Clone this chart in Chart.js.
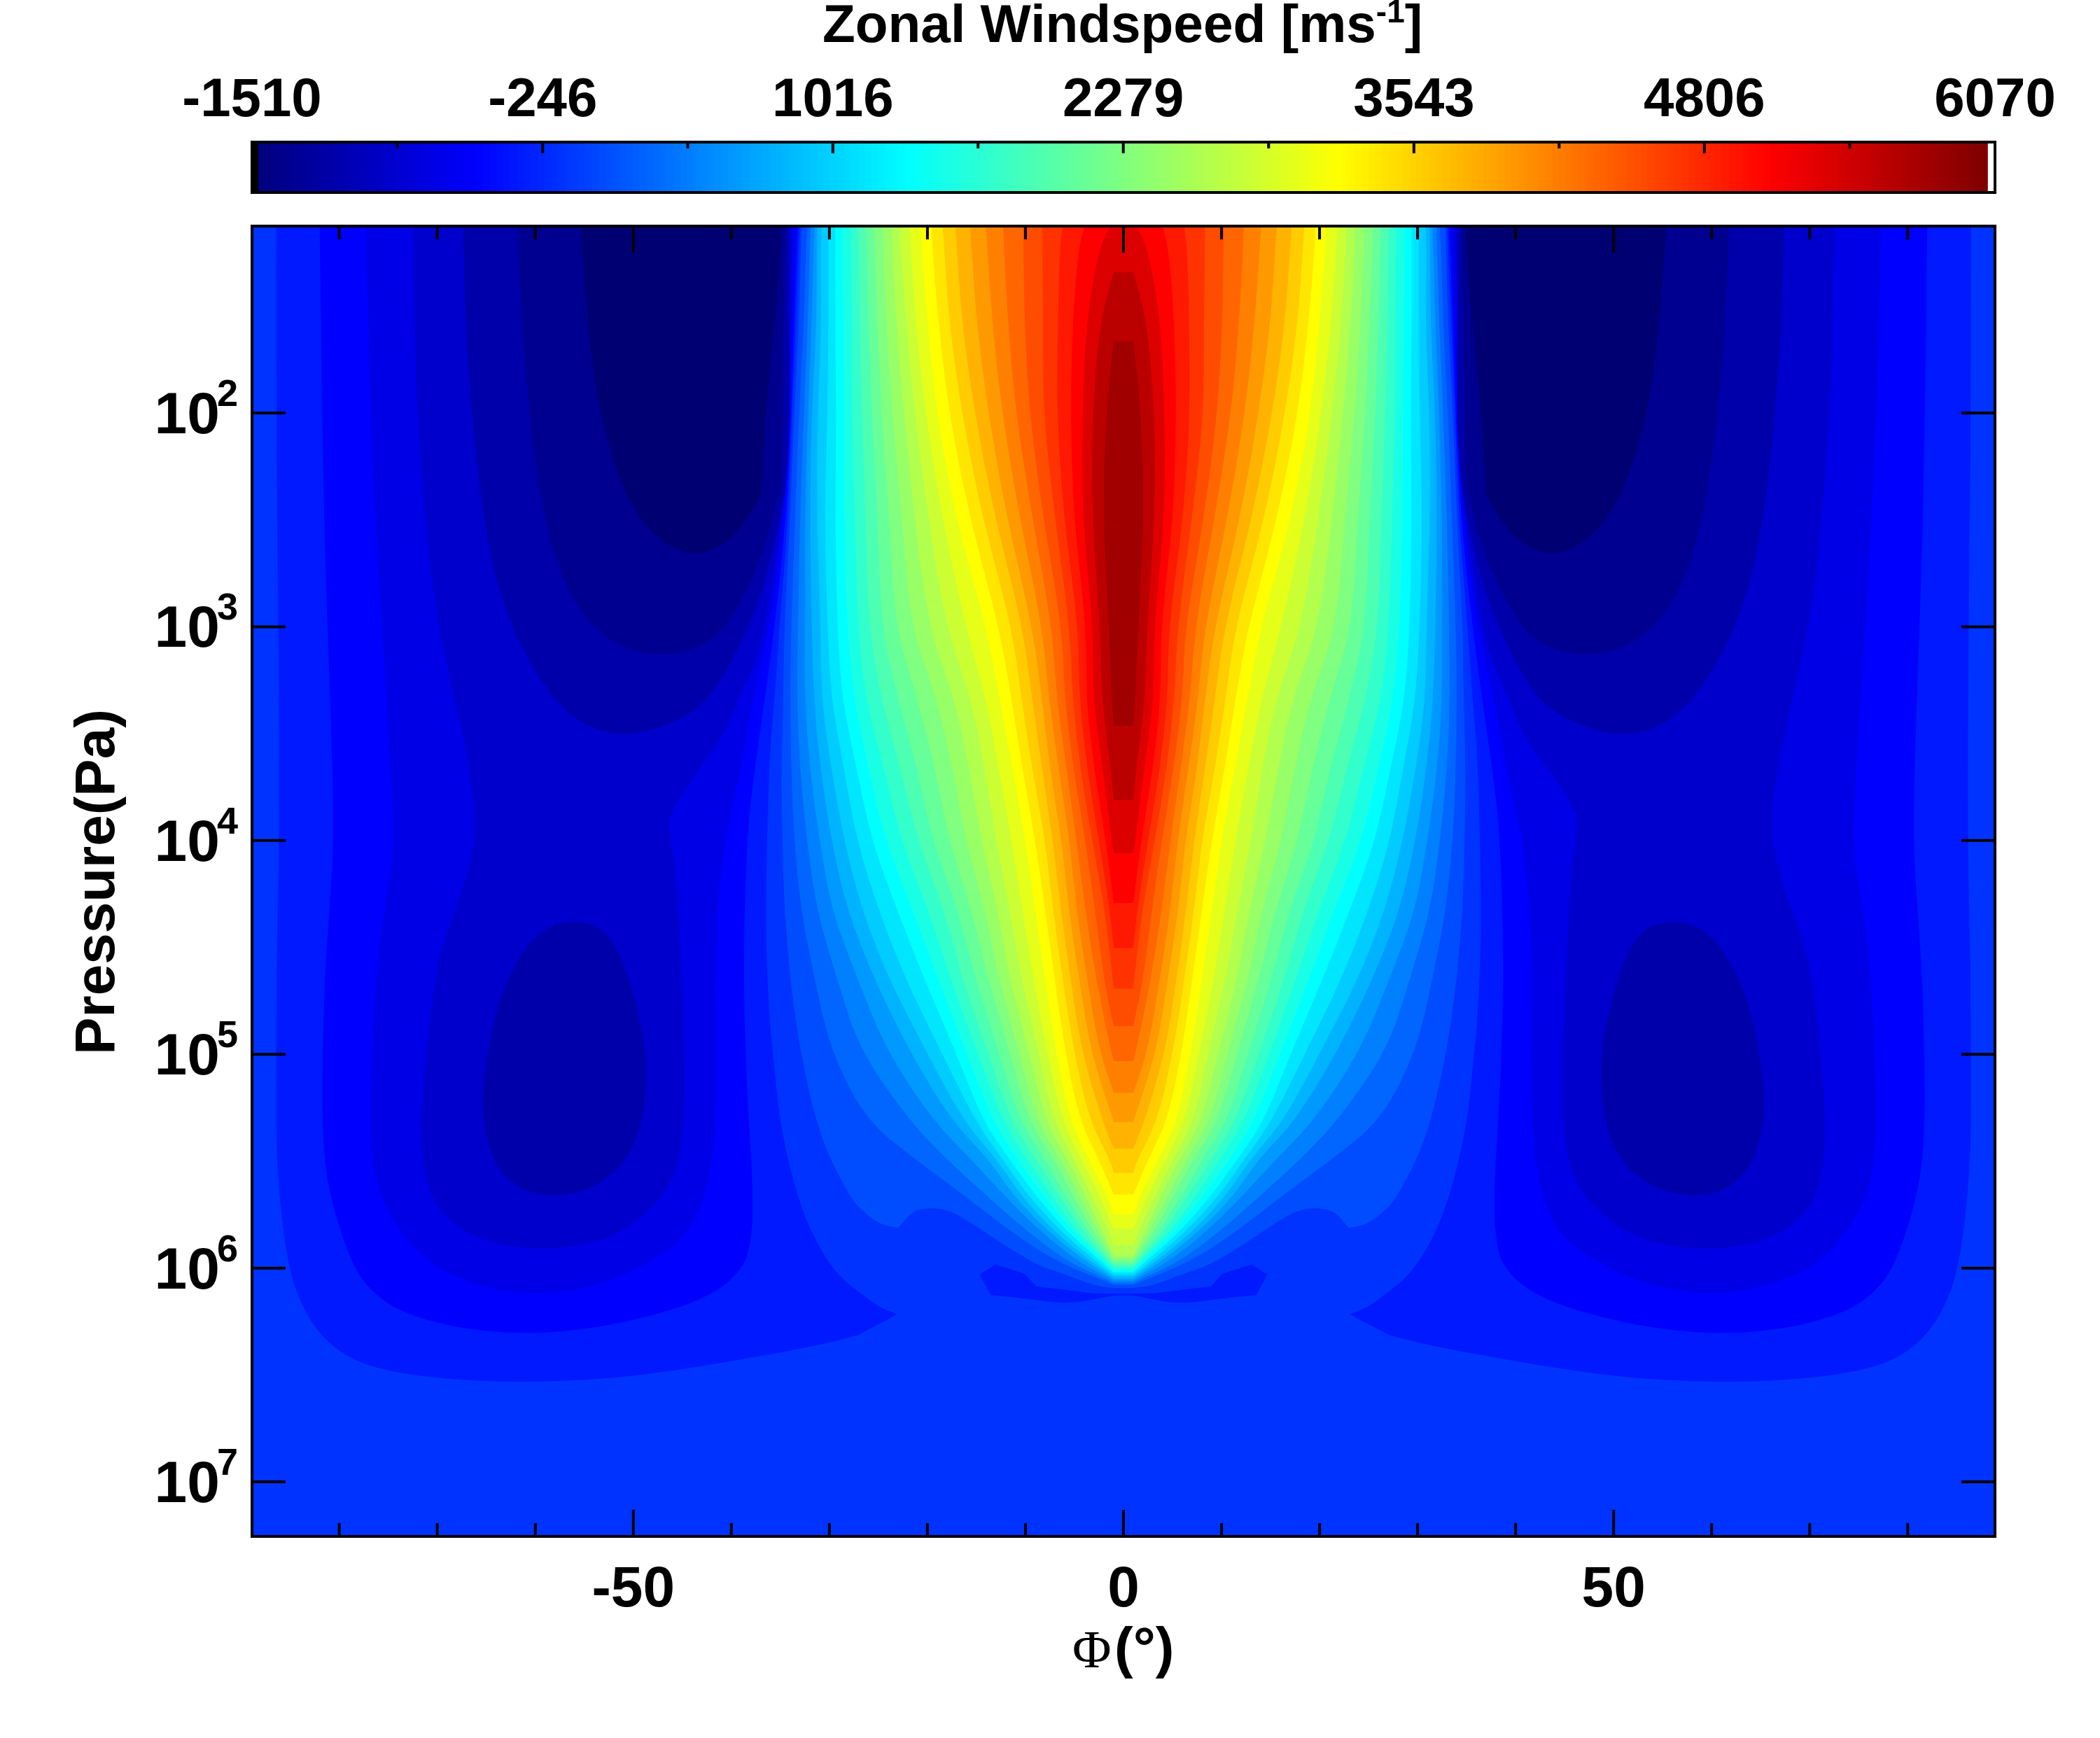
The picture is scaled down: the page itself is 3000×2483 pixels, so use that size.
<!DOCTYPE html>
<html>
<head>
<meta charset="utf-8">
<title>Zonal Windspeed</title>
<script src="https://cdn.jsdelivr.net/npm/chart.js@4/dist/chart.umd.js"></script>
<style>
  html, body { margin: 0; padding: 0; background: #fff; }
  canvas { position: absolute; left: 0; top: 0; display: block; }
</style>
</head>
<body>
<canvas id="main-chart" width="3000" height="2483"></canvas>
<canvas id="colorbar" width="3000" height="300"></canvas>
<script>
// ── Axes and labels ──────────────────────────────────────────────────────
const LAT_RANGE = [-88.9, 88.9]
const LAT_MINOR = [-80, -70, -60, -40, -30, -20, -10, 10, 20, 30, 40, 60, 70, 80]
const LAT_MAJOR = [-50, 0, 50]
const LOGP_RANGE = [1.126, 7.255]
const PRESSURE_EXPONENTS = [2, 3, 4, 5, 6, 7]
const COLORBAR_LABELS = [-1510, -246, 1016, 2279, 3543, 4806, 6070]
const TITLE = "Zonal Windspeed [ms"

// ── Contour level colours, index = band number, lowest wind first ────────
const LEVEL_COLORS = [
  "#000073", "#000090", "#0000aa", "#0000cc", "#0000e6", "#0000ff", "#0019ff", "#0033ff",
  "#004dff", "#0066ff", "#0080ff", "#0099ff", "#00b3ff", "#00ccff", "#00e6ff", "#00ffff",
  "#19ffe6", "#33ffcc", "#4dffb3", "#66ff99", "#80ff80", "#99ff66", "#b3ff4d", "#ccff33",
  "#e6ff19", "#ffff00", "#ffe600", "#ffcc00", "#ffb300", "#ff9900", "#ff8000", "#ff6600",
  "#ff4d00", "#ff3300", "#ff1900", "#ff0000", "#dd0000", "#bb0000", "#a00000"
]

// ── Negative wind regions: [|latitude|, log10 pressure] ─
// a repeated point marks a sharp corner
const REGION_6 = [[86.45,1.1],[86.4,2.244],[86.2,2.996],[86.1,3.999],[86.4,4.561],[86.45,5.125],[86.4,5.538],[85.3,5.99],[83.5,6.215],[80.9,6.365],[77.3,6.459],[70.7,6.516],[60.5,6.538],[48.8,6.506],[31.8,6.369],[27.1,6.314],[27.1,6.314],[23.1,6.216],[23.1,6.216],[25.0,6.181],[26.9,6.115],[28.9,6.044],[30.9,5.919],[33.0,5.712],[35.0,5.351],[35.8,4.98],[36.1,4.847],[36.5,4.471],[36.4,4.032],[36.1,3.594],[35.6,3.343],[35.1,3.0],[34.2,2.491],[33.8,2.0],[33.4,1.574],[33.0,1.1]]
const REGION_5 = [[82.0,1.1],[81.8,1.868],[81.5,2.62],[80.9,3.372],[80.5,3.997],[81.1,4.373],[81.6,4.749],[81.8,5.35],[81.1,5.651],[78.7,5.99],[76.5,6.121],[73.3,6.215],[67.1,6.29],[59.8,6.309],[52.5,6.271],[45.2,6.187],[41.2,6.102],[39.0,6.008],[38.1,5.914],[37.7,5.689],[38.5,5.125],[38.8,4.561],[38.4,3.969],[37.6,3.656],[36.6,3.343],[35.6,3.0],[34.4,2.491],[33.9,2.0],[33.6,1.574],[33.2,1.1]]
const REGION_4 = [[77.3,1.1],[76.9,1.868],[76.2,2.62],[75.1,3.372],[74.35,3.999],[74.9,4.185],[76.2,4.561],[76.9,5.313],[76.35,5.595],[74.35,5.8],[70.7,5.99],[65.24,6.093],[59.8,6.121],[54.3,6.093],[48.84,5.99],[44.1,5.839],[41.9,5.538],[41.55,5.125],[41.74,4.467],[40.75,3.997],[39.25,3.719],[37.85,3.343],[36.1,3.0],[34.6,2.491],[34.1,2.0],[33.8,1.574],[33.5,1.1]]
const REGION_3 = [[72.5,1.1],[72.2,1.868],[71.4,2.432],[70.0,2.996],[67.06,3.56],[66.15,3.842],[66.15,3.997],[67.06,4.185],[68.9,4.41],[70.3,4.636],[71.8,5.313],[71.1,5.632],[68.9,5.783],[65.24,5.877],[59.8,5.918],[54.3,5.886],[50.66,5.82],[47.0,5.67],[45.2,5.5],[44.65,5.125],[45.56,4.185],[46.2,3.997],[46.4,3.898],[45.2,3.785],[40.64,3.503],[39.4,3.343],[37.56,3.17],[36.4,2.95],[34.8,2.491],[34.3,2.0],[34.1,1.574],[33.8,1.1]]
const REGION_2_TOP = [[67.4,1.1],[67.06,1.68],[65.6,2.432],[63.4,2.902],[59.8,3.24],[56.1,3.437],[51.75,3.513],[47.0,3.475],[43.0,3.372],[40.95,3.243],[39.0,3.075],[36.85,2.841],[34.7,2.439],[34.2,2.22],[34.0,1.927],[34.2,1.1]]
const REGION_2_LOW = [[56.1,4.373],[52.85,4.411],[50.66,4.598],[48.84,4.937],[48.66,5.125],[49.2,5.35],[51.0,5.52],[54.3,5.632],[58.3,5.67],[61.6,5.632],[64.15,5.52],[65.4,5.313],[65.24,5.087],[63.8,4.749],[61.2,4.505],[58.7,4.401]]
const REGION_1 = [[61.8,1.1],[61.4,1.586],[60.1,2.244],[57.95,2.714],[55.0,2.968],[51.0,3.108],[46.65,3.137],[43.2,3.097],[41.0,3.024],[39.0,2.877],[36.85,2.68],[34.9,2.336],[34.9,2.336],[34.7,1.927],[34.7,1.574],[34.4,1.1]]
const REGION_0 = [[55.4,1.1],[54.86,1.49],[53.94,1.868],[52.49,2.169],[50.3,2.432],[47.75,2.582],[45.2,2.648],[43.37,2.663],[40.83,2.62],[38.64,2.516],[37.0,2.385],[37.0,2.385],[36.27,1.868],[35.36,1.49],[34.81,1.1]]
// patch just under the jet tip, from the equator outwards and back
const ISLAND_6 = [[0,6.128],[1.1,6.128],[4.78,6.162],[7.02,6.162],[9.73,6.143],[13.55,6.126],[13.55,6.126],[14.67,6.03],[14.67,6.03],[13.08,5.983],[13.08,5.983],[10.05,6.027],[10.05,6.027],[8.93,6.085],[8.93,6.085],[4.94,6.107],[3.03,6.12],[0,6.12]]
// outer edge of band 8, including the shoulder above the deep flow
const BAND_8 = [[32.8,1.1],[32.8,1.1],[32.9,1.225],[33.1,1.574],[33.6,2.0],[34.0,2.491],[34.6,3.0],[34.7,3.343],[34.9,3.67],[34.8,4.0],[34.6,4.325],[34.0,4.652],[33.0,4.98],[31.4,5.307],[29.9,5.493],[27.9,5.665],[26.9,5.722],[24.9,5.796],[23.0,5.812],[23.0,5.812],[21.8,5.749],[21.0,5.725],[18.8,5.717],[16.8,5.749],[12.9,5.87],[8.9,5.984],[6.1,6.027],[2.9,6.083],[1.0,6.093]]

// ── Equatorial jet: half width in degrees of each band, row by row ───────
// every row starts at band 9 and stops at the last band present at that depth
const JET_LOGP = [1.1, 1.225, 1.574, 2.0, 2.491, 3.0, 3.343, 3.67, 4.0, 4.325, 4.652, 4.98, 5.307, 5.493, 5.665, 5.836, 5.973]
const JET_ROW_0 = [32.2,31.9,31.5,31.2,30.8,30.1,29.4,28.7,27.8,27.1,26.3,25.5,24.6,23.6,22.7,21.8,20.7,19.6,18.5,17.2,15.7,14.1,12.3,10.3,8.3,6.1,3.8,1.0]
const JET_ROW_1 = [32.4,32.0,31.6,31.3,30.9,30.1,29.4,28.7,27.8,27.0,26.2,25.4,24.5,23.6,22.7,21.7,20.6,19.5,18.3,17.0,15.5,13.9,12.2,10.2,8.3,6.5,4.6,2.5]
const JET_ROW_2 = [32.6,32.2,31.8,31.3,30.8,30.1,29.4,28.6,27.7,26.9,26.0,25.1,24.2,23.2,22.2,21.2,20.0,18.9,17.8,16.5,15.0,13.4,11.8,10.1,8.2,6.7,5.2,3.8,2.4]
const JET_ROW_3 = [33.1,32.6,32.2,31.8,31.2,30.2,29.3,28.5,27.7,26.7,25.7,24.7,23.6,22.4,21.3,20.2,19.1,17.8,16.5,15.2,13.8,12.4,11.0,9.6,8.2,6.8,5.4,4.2,3.2,1.8]
const JET_ROW_4 = [33.5,33.0,32.5,32.0,31.3,30.5,29.4,28.5,27.4,26.3,25.1,23.9,22.6,21.3,19.9,18.5,17.1,15.7,14.4,13.1,11.9,10.6,9.3,8.2,7.0,6.1,5.1,4.2,3.2,2.1]
const JET_ROW_5 = [33.9,33.2,32.5,31.8,30.9,30.2,29.2,28.2,27.1,26.0,24.7,23.3,21.7,19.9,18.1,16.1,14.0,12.7,11.4,10.3,9.3,8.3,7.3,6.3,5.5,4.6,3.8,3.1,2.4,1.5]
const JET_ROW_6 = [34.0,33.3,32.5,31.6,30.8,29.8,28.7,27.5,26.3,24.7,23.0,21.0,19.0,17.2,15.5,14.0,12.6,11.4,10.4,9.3,8.3,7.6,6.8,6.0,5.2,4.5,3.8,3.1,2.2,1.2]
const JET_ROW_7 = [33.9,33.0,32.0,30.9,29.8,28.5,27.2,26.0,24.4,22.7,21.0,19.2,17.4,15.7,14.1,12.7,11.3,10.3,9.3,8.3,7.5,6.6,5.8,5.1,4.4,3.7,3.0,2.1,1.3]
const JET_ROW_8 = [33.6,32.3,31.0,29.8,28.5,27.2,25.7,24.3,22.7,21.0,19.5,17.8,16.1,14.5,13.0,11.4,10.0,9.0,8.0,7.2,6.3,5.5,4.8,3.9,3.2,2.5,1.8,1.2]
const JET_ROW_9 = [32.9,31.3,29.8,28.2,26.7,25.0,23.1,21.5,19.9,18.3,16.9,15.5,14.1,12.8,11.6,10.3,9.0,8.0,7.2,6.4,5.6,4.8,3.9,2.9,1.9,1.4]
const JET_ROW_10 = [31.5,29.2,27.1,25.4,23.9,22.2,20.3,18.9,17.6,16.4,15.1,13.8,12.7,11.6,10.4,9.2,8.0,7.0,6.2,5.4,4.5,3.7,2.8,2.0,1.1]
const JET_ROW_11 = [29.9,26.9,24.2,21.9,20.2,18.7,17.2,16.1,15.0,13.9,12.8,11.7,10.7,9.7,8.7,7.8,6.9,6.0,5.1,4.3,3.4,2.5,1.3]
const JET_ROW_12 = [26.3,21.9,19.5,17.6,16.4,15.2,14.4,13.4,12.4,11.5,10.6,9.7,8.9,8.0,7.2,6.3,5.5,4.5,3.5,2.2]
const JET_ROW_13 = [21.2,18.0,15.5,13.7,12.9,12.3,11.6,10.8,9.8,8.9,8.0,7.1,6.4,5.7,5.0,4.3,3.5,2.5,1.4]
const JET_ROW_14 = [16.1,13.9,12.1,11.2,10.4,9.7,8.9,8.1,7.3,6.5,5.9,5.1,4.5,3.8,3.2,2.4,1.6]
const JET_ROW_15 = [11.3,9.6,8.3,7.5,6.9,6.2,5.6,5.1,4.6,4.0,3.5,3.0,2.5,2.1,1.4]
const JET_ROW_16 = [6.7,5.6,4.5,3.7,3.2,2.7,2.2,1.9,1.6,1.4,1.2]
const JET_ROWS = [JET_ROW_0, JET_ROW_1, JET_ROW_2, JET_ROW_3, JET_ROW_4, JET_ROW_5, JET_ROW_6, JET_ROW_7, JET_ROW_8,
  JET_ROW_9, JET_ROW_10, JET_ROW_11, JET_ROW_12, JET_ROW_13, JET_ROW_14, JET_ROW_15, JET_ROW_16]
// log10 pressure where each band (9 to 38) closes below the flat tip at ±1°
const JET_TIP_BOTTOM = [6.078,6.069,6.059,6.05,6.039,6.03,6.019,6.012,6.0,5.99,5.978,5.968,5.954,5.941,5.892,5.815,5.749,5.656,5.555,5.441,5.317,5.18,5.032,4.868,4.692,4.502,4.292,4.06,3.811,3.464]
// bands 37 and 38 also close at the top
const JET_TIP_TOP = { 37: 1.342, 38: 1.666 }
const TIP_HALF_WIDTH = 1.0

// ── Fonts and frame ──────────────────────────────────────────────────────
const BOLD = "'Liberation Sans', Arial, sans-serif"
const LINE = 4

function toPoint([lat, logP]) {
  return { x: lat, y: Math.pow(10, logP) }
}

function region(pairs, color, label) {
  return { label, data: pairs.map(toPoint), backgroundColor: color, showLine: false, pointRadius: 0 }
}

// keeps the corners square where an outline leaves the top of the plot
function squareEnds(pairs) {
  return [pairs[0]].concat(pairs, [pairs[pairs.length - 1]])
}

// half outline running from the equator out and back, closed over the other hemisphere
function fullOutline(half) {
  const other = half.slice().reverse().map(([lat, logP]) => [-lat, logP])
  return half.concat(other)
}

function jetOutline(band) {
  const idx = band - 9
  const half = []
  const topTip = JET_TIP_TOP[band]
  if (topTip !== undefined) {
    half.push([0, topTip], [0, topTip], [TIP_HALF_WIDTH, topTip], [TIP_HALF_WIDTH, topTip])
  }
  JET_ROWS.forEach((row, r) => {
    if (row[idx] === undefined) return
    if (!half.length) half.push([0, JET_LOGP[r]], [0, JET_LOGP[r]], [row[idx], JET_LOGP[r]])
    half.push([row[idx], JET_LOGP[r]])
  })
  const tip = JET_TIP_BOTTOM[idx]
  half.push([TIP_HALF_WIDTH, tip], [TIP_HALF_WIDTH, tip], [0, tip], [0, tip])
  return fullOutline(half)
}

function buildDatasets() {
  const sets = []
  const corners = [[LAT_RANGE[0], 1], [LAT_RANGE[0], 1], [LAT_RANGE[1], 1], [LAT_RANGE[1], 1], [LAT_RANGE[1], 8], [LAT_RANGE[1], 8], [LAT_RANGE[0], 8], [LAT_RANGE[0], 8]]
  sets.push(region(corners, LEVEL_COLORS[7], "band 7"))

  const negative = [
    [squareEnds(REGION_6), 6], [squareEnds(REGION_5), 5], [squareEnds(REGION_4), 4], [squareEnds(REGION_3), 3],
    [squareEnds(REGION_2_TOP), 2], [REGION_2_LOW, 2], [squareEnds(REGION_1), 1], [squareEnds(REGION_0), 0]
  ]
  negative.forEach(([pairs, band]) => {
    sets.push(region(pairs, LEVEL_COLORS[band], "band " + band))
    sets.push(region(pairs.map(([lat, logP]) => [-lat, logP]), LEVEL_COLORS[band], "band " + band))
  })
  sets.push(region(fullOutline(ISLAND_6), LEVEL_COLORS[6], "band 6"))

  const band8 = [[0, BAND_8[0][1]], [0, BAND_8[0][1]]].concat(BAND_8, [[0, BAND_8[BAND_8.length - 1][1]]])
  sets.push(region(fullOutline(band8), LEVEL_COLORS[8], "band 8"))
  for (let band = 9; band <= 38; band++) {
    sets.push(region(jetOutline(band), LEVEL_COLORS[band], "band " + band))
  }
  return sets
}

// ── Plugin: fills each dataset outline, using the points placed by the scales ─
// the outline is rounded through the midpoints, so the read-off points leave no kinks
const polygonFill = {
  id: "polygonFill",
  beforeDatasetsDraw(chart) {
    const { ctx, chartArea: a } = chart
    ctx.save()
    ctx.beginPath()
    ctx.rect(a.left, a.top, a.right - a.left, a.bottom - a.top)
    ctx.clip()
    chart.data.datasets.forEach((ds, i) => {
      const pts = chart.getDatasetMeta(i).data
      const n = pts.length
      const mid = (p, q) => [(p.x + q.x) / 2, (p.y + q.y) / 2]
      ctx.beginPath()
      ctx.moveTo(...mid(pts[n - 1], pts[0]))
      pts.forEach((p, k) => {
        const [mx, my] = mid(p, pts[(k + 1) % n])
        ctx.quadraticCurveTo(p.x, p.y, mx, my)
      })
      ctx.closePath()
      ctx.fillStyle = ds.backgroundColor
      ctx.fill()
    })
    ctx.restore()
  }
}

function vLine(ctx, x, y0, y1) {
  ctx.beginPath()
  ctx.moveTo(x, y0)
  ctx.lineTo(x, y1)
  ctx.stroke()
}

function hLine(ctx, y, x0, x1) {
  ctx.beginPath()
  ctx.moveTo(x0, y)
  ctx.lineTo(x1, y)
  ctx.stroke()
}

// ── Plugin: frame, inward ticks, pressure labels and axis titles ─────────
const mainDecor = {
  id: "mainDecor",
  afterDatasetsDraw(chart) {
    const { ctx, chartArea: a, scales } = chart
    ctx.save()
    ctx.strokeStyle = "#000"
    ctx.lineWidth = LINE
    ctx.strokeRect(a.left, a.top, a.right - a.left, a.bottom - a.top)

    LAT_MINOR.forEach(v => {
      const x = scales.x.getPixelForValue(v)
      vLine(ctx, x, a.top, a.top + 19)
      vLine(ctx, x, a.bottom, a.bottom - 19)
    })
    LAT_MAJOR.forEach(v => {
      const x = scales.x.getPixelForValue(v)
      vLine(ctx, x, a.top, a.top + 38)
      vLine(ctx, x, a.bottom, a.bottom - 38)
    })

    ctx.fillStyle = "#000"
    ctx.textBaseline = "alphabetic"
    ctx.textAlign = "right"
    PRESSURE_EXPONENTS.forEach(exp => {
      const y = scales.y.getPixelForValue(Math.pow(10, exp))
      hLine(ctx, y, a.left, a.left + 48)
      hLine(ctx, y, a.right, a.right - 48)
      ctx.font = "bold 84px " + BOLD
      ctx.fillText("10", 314, y + 29)
      ctx.font = "bold 54px " + BOLD
      ctx.fillText(String(exp), 340, y - 10)
    })

    // x title: Φ in a serif face, the rest bold
    ctx.textAlign = "left"
    ctx.font = "76px 'Liberation Serif', serif"
    ctx.fillText("Φ", 1532, 2382)
    ctx.font = "bold 80px " + BOLD
    ctx.fillText("(°)", 1592, 2381)

    ctx.translate(163, 1260)
    ctx.rotate(-Math.PI / 2)
    ctx.textAlign = "center"
    ctx.font = "bold 80px " + BOLD
    ctx.fillText("Pressure(Pa)", 0, 0)
    ctx.restore()
  }
}

new Chart(document.getElementById("main-chart"), {
  type: "scatter",
  data: { datasets: buildDatasets() },
  plugins: [polygonFill, mainDecor],
  options: {
    responsive: false,
    animation: false,
    events: [],
    layout: { padding: { top: 323, right: 150, left: 0, bottom: 0 } },
    plugins: { legend: { display: false }, tooltip: { enabled: false } },
    scales: {
      x: {
        type: "linear",
        min: LAT_RANGE[0],
        max: LAT_RANGE[1],
        grid: { display: false },
        border: { display: false },
        afterBuildTicks: s => { s.ticks = LAT_MAJOR.map(value => ({ value })) },
        afterFit: s => { s.height = 288 },
        ticks: {
          color: "#000",
          autoSkip: false,
          maxRotation: 0,
          padding: 20,
          font: { family: BOLD, size: 82, weight: "bold" }
        }
      },
      y: {
        type: "logarithmic",
        reverse: true,
        min: Math.pow(10, LOGP_RANGE[0]),
        max: Math.pow(10, LOGP_RANGE[1]),
        grid: { display: false },
        border: { display: false },
        afterFit: s => { s.width = 360 },
        ticks: { display: false }
      }
    }
  }
})

// ── Colour bar ───────────────────────────────────────────────────────────
const CELL_COUNT = 256
const cellStep = (COLORBAR_LABELS[6] - COLORBAR_LABELS[0]) / CELL_COUNT

function jetColor(t) {
  const ramp = c => Math.round(255 * Math.max(0, Math.min(1, 1.5 - Math.abs(4 * t - c))))
  return `rgb(${ramp(3)},${ramp(2)},${ramp(1)})`
}

const cellColors = Array.from({ length: CELL_COUNT }, (_, k) => {
  if (k === 0) return "#000"
  if (k === CELL_COUNT - 1) return "#fff"
  return jetColor((k - 1) / (CELL_COUNT - 3))
})
const cellData = cellColors.map((_, k) => ({ x: COLORBAR_LABELS[0] + (k + 0.5) * cellStep, y: 1 }))

const colorbarDecor = {
  id: "colorbarDecor",
  afterDatasetsDraw(chart) {
    const { ctx, chartArea: a, scales } = chart
    ctx.save()
    ctx.strokeStyle = "#000"
    ctx.lineWidth = LINE
    ctx.strokeRect(a.left, a.top, a.right - a.left, a.bottom - a.top)
    COLORBAR_LABELS.forEach((v, i) => {
      const x = scales.x.getPixelForValue(v)
      vLine(ctx, x, a.top, a.top + 16)
      if (i < COLORBAR_LABELS.length - 1) {
        const mid = scales.x.getPixelForValue((v + COLORBAR_LABELS[i + 1]) / 2)
        vLine(ctx, mid, a.top, a.top + 9)
      }
    })

    // title with the superscript unit
    ctx.fillStyle = "#000"
    ctx.textBaseline = "alphabetic"
    ctx.textAlign = "left"
    ctx.font = "bold 76.6px " + BOLD
    ctx.fillText(TITLE, 1175, 60)
    const w = ctx.measureText(TITLE).width
    ctx.font = "bold 46px " + BOLD
    ctx.fillText("-1", 1175 + w, 32)
    const w2 = ctx.measureText("-1").width
    ctx.font = "bold 76.6px " + BOLD
    ctx.fillText("]", 1175 + w + w2, 60)
    ctx.restore()
  }
}

new Chart(document.getElementById("colorbar"), {
  type: "bar",
  data: {
    datasets: [{
      data: cellData,
      backgroundColor: cellColors,
      barPercentage: 1.1,
      categoryPercentage: 1,
      borderWidth: 0
    }]
  },
  plugins: [colorbarDecor],
  options: {
    responsive: false,
    animation: false,
    events: [],
    layout: { padding: { left: 360, right: 150, top: 0, bottom: 25 } },
    plugins: { legend: { display: false }, tooltip: { enabled: false } },
    scales: {
      x: {
        type: "linear",
        position: "top",
        offset: false,
        min: COLORBAR_LABELS[0],
        max: COLORBAR_LABELS[6],
        grid: { display: false },
        border: { display: false },
        afterBuildTicks: s => { s.ticks = COLORBAR_LABELS.map(value => ({ value })) },
        afterFit: s => { s.height = 203 },
        ticks: {
          color: "#000",
          autoSkip: false,
          maxRotation: 0,
          padding: 4,
          callback: v => String(v),
          font: { family: BOLD, size: 78, weight: "bold" }
        }
      },
      y: { display: false, min: 0, max: 1 }
    }
  }
})
</script>
</body>
</html>
